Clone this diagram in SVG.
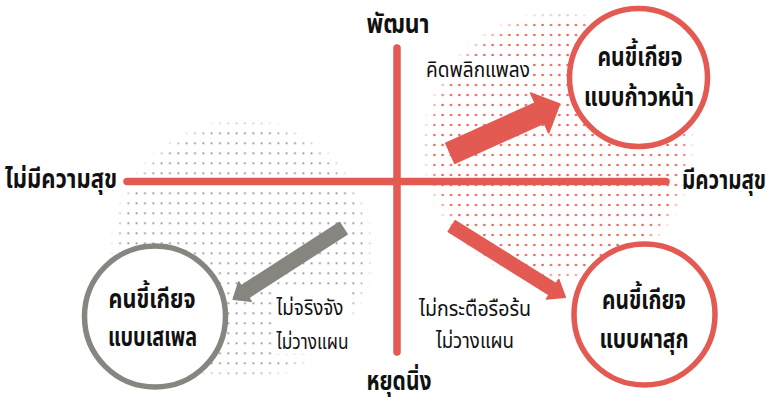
<svg xmlns="http://www.w3.org/2000/svg" width="772" height="401" viewBox="0 0 772 401">
<defs>
<style>
.t{font-family:'Noto Sans Thai','Noto Sans','DejaVu Sans',sans-serif;fill:#111;}
.ax{font-size:27px;font-weight:bold;}
.ct{font-size:27px;font-weight:bold;text-anchor:middle;}
.sm{font-size:21px;font-weight:normal;text-anchor:middle;}
.axis{stroke:#e35a52;stroke-width:7.5;stroke-linecap:round;fill:none;}
.red{fill:#e35a52;stroke:#e35a52;stroke-width:1.5;stroke-linejoin:round;}
.gray{fill:#868580;stroke:#868580;stroke-width:1.5;stroke-linejoin:round;}
.ring-r{fill:#fff;stroke:#e35a52;stroke-width:5.5;}
.ring-g{fill:#fff;stroke:#868580;stroke-width:5.5;}
</style>
<pattern id="gdots" width="8.333" height="10" patternUnits="userSpaceOnUse" x="-0.87" y="-1.7">
<circle cx="4.17" cy="5" r="1.1" fill="#8f8f8f"/>
</pattern>
<pattern id="rdots" width="8.333" height="10" patternUnits="userSpaceOnUse" x="-3.17" y="0">
<circle cx="4.17" cy="5" r="1.35" fill="#e8665c"/>
</pattern>
<radialGradient id="fade">
<stop offset="0.9" stop-color="#fff"/>
<stop offset="1" stop-color="#000"/>
</radialGradient>
<mask id="gmask"><circle cx="242" cy="250" r="133" fill="url(#fade)"/></mask>
<mask id="rmask"><circle cx="558" cy="147" r="137" fill="url(#fade)"/></mask>
</defs>
<rect width="772" height="401" fill="#fff"/>
<g id="dots">
<circle cx="242" cy="250" r="133" fill="url(#gdots)" mask="url(#gmask)"/>
<circle cx="558" cy="147" r="137" fill="url(#rdots)" mask="url(#rmask)"/>
</g>
<g id="axes">
<line class="axis" x1="127" y1="181.5" x2="666" y2="181.5"/>
<line class="axis" x1="397" y1="48" x2="397" y2="352"/>
</g>
<g id="connectors">
<polygon class="red" transform="translate(450.3,153.3) rotate(-24.3)" points="0,-11 98,-11 98,-22 120,0 98,22 98,11 0,11"/>
<polygon class="red" transform="translate(451.7,226.2) rotate(32)" points="0,-6.5 119,-6.5 119,-11.5 134,0 119,11.5 119,6.5 0,6.5"/>
<polygon class="gray" transform="translate(343.3,228.3) rotate(147.2)" points="0,-7 117,-7 117,-11.5 131,0 117,11.5 117,7 0,7"/>
</g>
<g id="label-bg" fill="#fff">
<rect x="423" y="56" width="110" height="26"/>
<rect x="273" y="290" width="78" height="64"/>
</g>
<g id="axis-labels">
<text class="t ax" x="398" y="33" text-anchor="middle" textLength="63" lengthAdjust="spacingAndGlyphs">พัฒนา</text>
<text class="t ax" x="399" y="390" text-anchor="middle" textLength="65" lengthAdjust="spacingAndGlyphs">หยุดนิ่ง</text>
<text class="t ax" x="5" y="188" textLength="112" lengthAdjust="spacingAndGlyphs">ไม่มีความสุข</text>
<text class="t ax" transform="translate(682,189) scale(0.78,1)" x="0" y="0" textLength="107.7" lengthAdjust="spacingAndGlyphs">มีความสุข</text>
</g>
<g id="node-progress">
<circle class="ring-r" cx="638.5" cy="77.5" r="69"/>
<text class="t ct" x="640" y="66" textLength="85" lengthAdjust="spacingAndGlyphs">คนขี้เกียจ</text>
<text class="t ct" x="639" y="106" textLength="110" lengthAdjust="spacingAndGlyphs">แบบก้าวหน้า</text>
</g>
<g id="node-happy">
<circle class="ring-r" cx="644.5" cy="314.5" r="70.5"/>
<text class="t ct" x="644" y="309" textLength="84" lengthAdjust="spacingAndGlyphs">คนขี้เกียจ</text>
<text class="t ct" x="644" y="348" textLength="89" lengthAdjust="spacingAndGlyphs">แบบผาสุก</text>
</g>
<g id="node-lazy">
<circle class="ring-g" cx="155" cy="316.5" r="70.5"/>
<text class="t ct" x="152" y="308" textLength="87" lengthAdjust="spacingAndGlyphs">คนขี้เกียจ</text>
<text class="t ct" x="152.5" y="346" textLength="89" lengthAdjust="spacingAndGlyphs">แบบเสเพล</text>
</g>
<g id="edge-labels">
<text class="t sm" x="478" y="77" textLength="104" lengthAdjust="spacingAndGlyphs">คิดพลิกแพลง</text>
<text class="t sm" x="310" y="315" textLength="67" lengthAdjust="spacingAndGlyphs">ไม่จริงจัง</text>
<text class="t sm" x="312.5" y="349" textLength="72" lengthAdjust="spacingAndGlyphs">ไม่วางแผน</text>
<text class="t sm" x="475" y="316" textLength="112" lengthAdjust="spacingAndGlyphs">ไม่กระตือรือร้น</text>
<text class="t sm" x="475" y="348" textLength="78" lengthAdjust="spacingAndGlyphs">ไม่วางแผน</text>
</g>
</svg>
